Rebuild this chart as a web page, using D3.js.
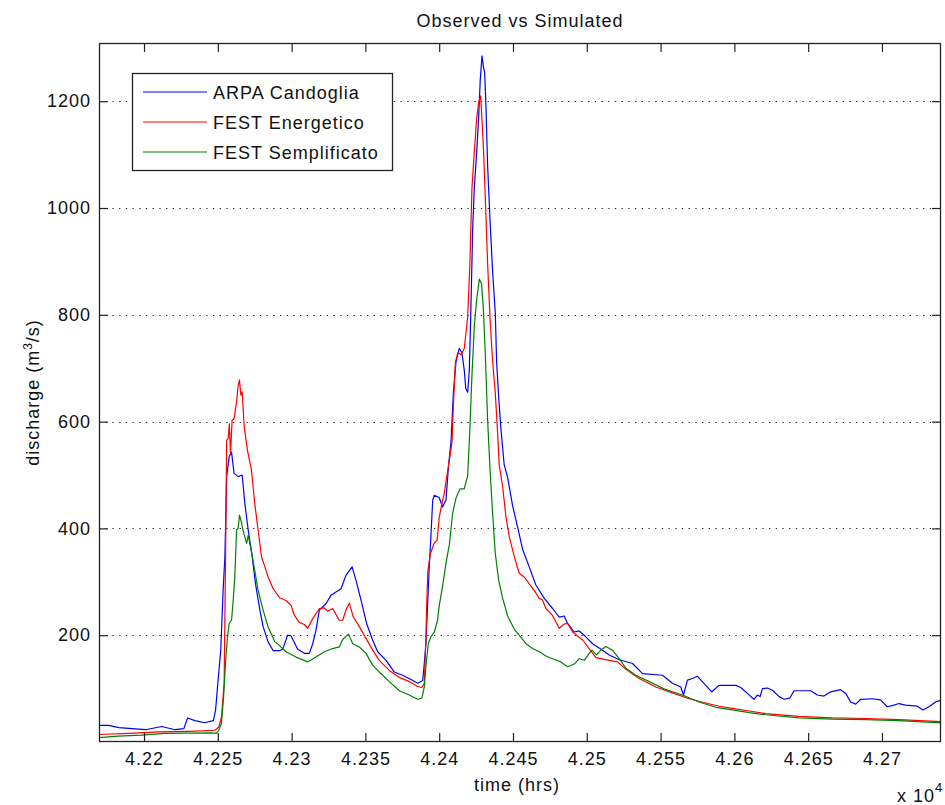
<!DOCTYPE html>
<html>
<head>
<meta charset="utf-8">
<script src="https://cdn.jsdelivr.net/npm/d3@7"></script>
<style>
  html, body { margin: 0; padding: 0; background: #fff; }
  svg { display: block; }
  text { font-family: "Liberation Sans", Arial, Helvetica, sans-serif; fill: #111; }
</style>
</head>
<body>
<svg id="chart" width="945" height="805"></svg>
<script>
// ---- data (time in hours, discharge in m3/s) ----
const chartTitle = "Observed vs Simulated";
const xLabel = "time (hrs)";
const seriesNames = ["ARPA Candoglia", "FEST Energetico", "FEST Semplificato"];
const seriesColors = ["#0000ff", "#ff0000", "#008000"];
const xTicks = [42200, 42250, 42300, 42350, 42400, 42450, 42500, 42550, 42600, 42650, 42700];
const yTicks = [200, 400, 600, 800, 1000, 1200];
const xDomain = [42169.5, 42740];
const yDomain = [0, 1309];

const arpaCandoglia = [[42169,31],[42176,31],[42183,27],[42192,25],[42201,23],[42212,29],[42221,23],[42227,25],[42229.5,45],[42234.5,40],[42241,36],[42247,40],[42248.5,60],[42250,110],[42252,172],[42253.6,284],[42254.8,347],[42256,497],[42257.7,534],[42259.3,543],[42261,503],[42263.8,497],[42266.5,500],[42268.3,447],[42270.6,397],[42273.3,347],[42275.5,297],[42278.5,247],[42280.7,216],[42284,188],[42287.5,171],[42292,171],[42294,174],[42297.3,200],[42299.6,199],[42304,174],[42308.6,166],[42312,166],[42314.3,184],[42316.5,209],[42318.8,247],[42323.3,259],[42326.7,275],[42333.5,287],[42336.8,312],[42341,328],[42343.6,303],[42347,266],[42350.8,222],[42354.9,191],[42358.3,169],[42364,153],[42369.6,131],[42375.2,125],[42380.9,117],[42385.4,110],[42388.8,115],[42389.9,147],[42391,184],[42393.3,330],[42394.4,386],[42395.6,453],[42396.7,462],[42400,458],[42402.3,440],[42404.6,453],[42406.4,520],[42408,562],[42409.6,654],[42411.4,712],[42413.6,737],[42415.4,729],[42417,696],[42418,662],[42419.3,655],[42420.4,696],[42421.5,813],[42422.7,963],[42423.8,1038],[42425.4,1105],[42426.7,1168],[42427.8,1239],[42429,1285],[42430,1264],[42430.8,1254],[42431.7,1189],[42432.8,1080],[42434.4,980],[42436.2,880],[42438,804],[42438.9,712],[42440.3,646],[42441.8,587],[42444,520],[42446.4,495],[42449.7,443],[42453.1,403],[42456.5,361],[42461,328],[42465.5,294],[42471.2,269],[42476.8,250],[42481.3,234],[42484.7,236],[42487,222],[42491.5,206],[42494.9,208],[42499.4,197],[42503.9,184],[42510.7,172],[42515.2,163],[42522,154],[42531,147],[42537.8,128],[42551.3,125],[42558,110],[42563.7,103],[42565.5,88],[42568.2,116],[42571.6,119],[42575,123],[42580.6,106],[42584.7,94],[42589.6,106],[42600.9,106],[42604.3,102],[42608.8,91],[42613.3,80],[42615.6,88],[42617.4,85],[42619,100],[42622.4,101],[42625.8,97],[42630.3,85],[42633.7,80],[42637.5,82],[42640.4,96],[42651.7,96],[42656.2,88],[42660.7,86],[42665.3,94],[42672,98],[42675.4,91],[42678.8,75],[42682.2,71],[42685.6,80],[42693.5,81],[42699.1,79],[42703.6,66],[42708.1,69],[42711.5,72],[42716,69],[42723.9,67],[42727.8,60],[42731.8,66],[42736.3,75],[42740,78]];

const festEnergetico = [[42169,14],[42190,16],[42210,19],[42230,20],[42248,22],[42250.7,28],[42252.5,47],[42254.3,110],[42255.2,334],[42256,565],[42257,568],[42257.8,596],[42258.6,540],[42259.7,603],[42261,605],[42262.7,637],[42263.8,668],[42264.7,678],[42265.6,650],[42266.5,656],[42267.9,590],[42270.1,546],[42272.8,509],[42275,447],[42277.3,397],[42279.6,347],[42281.9,328],[42284.1,309],[42287.5,287],[42292,270],[42296.2,265],[42299.6,256],[42301.9,237],[42305.2,224],[42308.6,220],[42310.9,213],[42314.3,231],[42318.8,250],[42322.2,251],[42324.4,245],[42327.8,250],[42332.3,228],[42334.6,228],[42336.8,247],[42339.1,260],[42341.8,234],[42345.9,216],[42350.4,194],[42354.9,172],[42359.4,153],[42366.2,134],[42373,121],[42379.7,113],[42385.4,104],[42388.3,102],[42389.9,110],[42391,194],[42391.5,252],[42392.3,320],[42394,352],[42396.7,373],[42398.6,378],[42400,420],[42402.3,453],[42403.4,465],[42404.6,487],[42406.9,528],[42408.7,562],[42409.6,629],[42411,712],[42412.7,729],[42414.8,725],[42417,737],[42419.3,796],[42420.8,896],[42422.2,1038],[42423.8,1105],[42425.4,1168],[42426.7,1197],[42428.1,1210],[42429,1164],[42430.1,1105],[42431.2,1022],[42432.8,896],[42434.4,796],[42436.2,712],[42438,654],[42439.6,578],[42440.7,518],[42443,478],[42445.2,422],[42447.5,384],[42450.9,347],[42454.2,316],[42457.6,309],[42461,296],[42464.4,284],[42467.8,269],[42470,266],[42472.3,250],[42476.8,237],[42481.3,213],[42484.7,221],[42487,222],[42490.4,206],[42497.2,191],[42506.2,158],[42515.2,153],[42520.8,150],[42526.5,136],[42535.5,119],[42546.8,103],[42558,92],[42569.3,81],[42580.6,73],[42589.6,67],[42598.7,63],[42610,58],[42621.2,53],[42643.8,48],[42666.4,45],[42689,44],[42711.5,42],[42740,38]];

const festSemplificato = [[42169,8],[42182.5,11],[42198.3,13],[42214,16],[42245.7,17],[42249,16],[42250.7,22],[42252.5,35],[42253.9,84],[42255.2,147],[42256.6,197],[42257.7,222],[42259.3,228],[42260.6,272],[42261.5,309],[42262.7,397],[42263.8,400],[42264.7,425],[42266,412],[42267,397],[42268.3,384],[42269.5,372],[42270.6,387],[42272.8,356],[42275,322],[42277.3,284],[42280.7,247],[42284,216],[42288.6,188],[42292,180],[42296.2,169],[42303,159],[42310.9,150],[42316.5,159],[42322.2,169],[42327.8,175],[42332.3,178],[42334.6,192],[42338.6,202],[42341.4,184],[42345.9,178],[42350.4,166],[42354.9,144],[42359.4,131],[42366.2,113],[42373,96],[42379.7,88],[42385.4,80],[42388.3,82],[42389.9,103],[42391,141],[42392.6,184],[42394.4,197],[42396.7,206],[42398.9,228],[42400,255],[42402.5,295],[42404.6,335],[42406.9,370],[42409.1,428],[42411.4,457],[42414.1,474],[42417,474],[42419.3,499],[42420.8,587],[42422.2,687],[42423.8,779],[42425.4,829],[42427.2,867],[42428.7,858],[42429.9,813],[42431.2,729],[42432.8,604],[42434.4,512],[42436.2,428],[42438,353],[42440.3,303],[42443,269],[42446.4,236],[42450.9,211],[42454.2,200],[42458.8,184],[42463.3,175],[42467.8,169],[42472.3,161],[42476.8,156],[42482.5,150],[42487,141],[42491.5,146],[42494.9,156],[42498.3,153],[42501.6,166],[42503.5,172],[42506.6,163],[42509.5,172],[42513,179],[42517.4,172],[42522,156],[42526.5,138],[42533.2,125],[42542.3,113],[42553.6,98],[42564.8,88],[42576.1,75],[42587.4,65],[42598.7,60],[42610,55],[42621.2,51],[42643.8,45],[42666.4,43],[42689,42],[42711.5,40],[42740,36]];

const seriesData = [arpaCandoglia, festEnergetico, festSemplificato];

// ---- layout ----
const W = 945, H = 805;
const plot = { left: 99, right: 941, top: 43, bottom: 742 };
const FONT = 18;
const LS = "1px";
const TICK = 9;

const svg = d3.select("#chart");
svg.append("rect").attr("width", W).attr("height", H).attr("fill", "#fff");

const x = d3.scaleLinear().domain(xDomain).range([plot.left, plot.right]);
const y = d3.scaleLinear().domain(yDomain).range([plot.bottom, plot.top]);

// grid (dotted, y only)
svg.append("g").selectAll("line").data(yTicks).join("line")
  .attr("x1", plot.left).attr("x2", plot.right)
  .attr("y1", d => Math.round(y(d)) + 0.5).attr("y2", d => Math.round(y(d)) + 0.5)
  .attr("stroke", "#222").attr("stroke-width", 1)
  .attr("stroke-dasharray", "1.3,5.4");

// clip
svg.append("clipPath").attr("id", "clip").append("rect")
  .attr("x", plot.left).attr("y", plot.top)
  .attr("width", plot.right - plot.left).attr("height", plot.bottom - plot.top);

const line = d3.line().x(d => x(d[0])).y(d => y(d[1]));
const lines = svg.append("g").attr("clip-path", "url(#clip)");
seriesData.forEach((s, i) => {
  lines.append("path").datum(s)
    .attr("d", line)
    .attr("fill", "none")
    .attr("stroke", seriesColors[i])
    .attr("stroke-width", 1.2)
    .attr("stroke-linejoin", "round");
});

// axes via d3 axis generators (ticks inside)
const fmtX = d => String(+(d / 1e4).toFixed(4));
const xAxisB = d3.axisBottom(x).tickValues(xTicks).tickSize(-TICK).tickPadding(10).tickFormat(fmtX);
const xAxisT = d3.axisTop(x).tickValues(xTicks).tickSize(-TICK).tickFormat("");
const yAxisL = d3.axisLeft(y).tickValues(yTicks).tickSize(-TICK).tickPadding(8).tickFormat(d3.format("d"));
const yAxisR = d3.axisRight(y).tickValues(yTicks).tickSize(-TICK).tickFormat("");

function styleAxis(g) {
  g.select(".domain").remove();
  g.selectAll(".tick line").attr("stroke", "#222").attr("stroke-width", 1.2);
  g.selectAll(".tick text")
    .attr("fill", "#111")
    .style("font-family", '"Liberation Sans", Arial, sans-serif')
    .style("font-size", FONT + "px")
    .style("letter-spacing", LS);
}
svg.append("g").attr("transform", `translate(0,${plot.bottom})`).call(xAxisB).call(styleAxis);
svg.append("g").attr("transform", `translate(0,${plot.top})`).call(xAxisT).call(styleAxis);
svg.append("g").attr("transform", `translate(${plot.left},0)`).call(yAxisL).call(styleAxis);
svg.append("g").attr("transform", `translate(${plot.right},0)`).call(yAxisR).call(styleAxis);

// frame
svg.append("rect")
  .attr("x", plot.left + 0.5).attr("y", plot.top + 0.5)
  .attr("width", plot.right - plot.left - 1).attr("height", plot.bottom - plot.top - 1)
  .attr("fill", "none").attr("stroke", "#222").attr("stroke-width", 1.3);

// title
svg.append("text")
  .attr("x", (plot.left + plot.right) / 2).attr("y", 27)
  .attr("text-anchor", "middle")
  .style("font-size", FONT + "px").style("letter-spacing", LS)
  .text(chartTitle);

// x label
svg.append("text")
  .attr("x", (plot.left + plot.right) / 2 - 3).attr("y", 791)
  .attr("text-anchor", "middle")
  .style("font-size", FONT + "px").style("letter-spacing", LS)
  .text(xLabel);

// exponent label
const ex = svg.append("text").attr("x", 897).attr("y", 802)
  .style("font-size", FONT + "px").style("letter-spacing", LS);
ex.append("tspan").text("x 10");
ex.append("tspan").attr("dy", -10).style("font-size", "13px").text("4");

// y label
const yl = svg.append("text")
  .attr("transform", `translate(39,${(plot.top + plot.bottom) / 2}) rotate(-90)`)
  .attr("text-anchor", "middle")
  .style("font-size", FONT + "px").style("letter-spacing", LS);
yl.append("tspan").text("discharge (m");
yl.append("tspan").attr("dy", -7).style("font-size", "12px").text("3");
yl.append("tspan").attr("dy", 7).text("/s)");

// legend
const leg = { x: 132, y: 73, w: 260, h: 97 };
svg.append("rect")
  .attr("x", leg.x + 0.5).attr("y", leg.y + 0.5).attr("width", leg.w).attr("height", leg.h)
  .attr("fill", "#fff").attr("stroke", "#222").attr("stroke-width", 1.3);
const legY = [92, 122, 152];
seriesNames.forEach((n, i) => {
  svg.append("line")
    .attr("x1", 143).attr("x2", 207)
    .attr("y1", legY[i]).attr("y2", legY[i])
    .attr("stroke", seriesColors[i]).attr("stroke-width", 1.2);
  svg.append("text")
    .attr("x", 213).attr("y", legY[i] + 6.5)
    .style("font-size", FONT + "px").style("letter-spacing", LS)
    .text(n);
});
</script>
</body>
</html>
